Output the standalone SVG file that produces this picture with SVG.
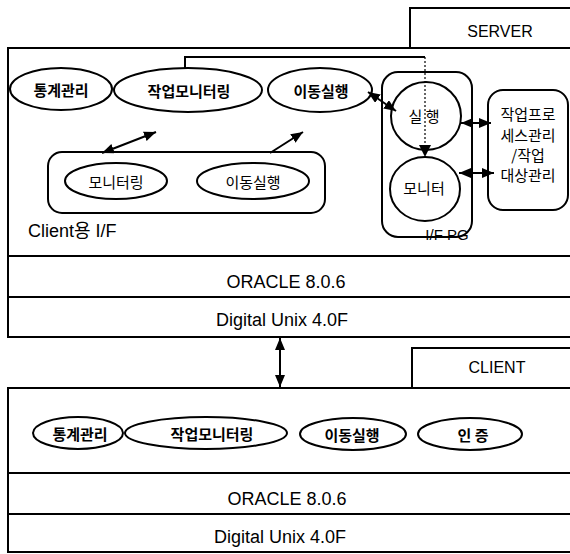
<svg xmlns="http://www.w3.org/2000/svg" width="570" height="554" viewBox="0 0 570 554">
<style>
.bx{fill:none;stroke:#000;stroke-width:2}
.ln{fill:none;stroke:#000;stroke-width:2}
.el{fill:#fff;stroke:#000;stroke-width:2}
.ar{fill:none;stroke:#000;stroke-width:2;marker-end:url(#ah)}
.ar2{fill:none;stroke:#000;stroke-width:2;marker-start:url(#ah);marker-end:url(#ah)}
.dot{fill:none;stroke:#000;stroke-width:1.2;stroke-dasharray:2 2}
.ko{font-family:"Noto Sans CJK KR","Liberation Sans",sans-serif;font-size:15px;font-weight:bold;fill:#000;text-anchor:middle;dominant-baseline:central}
.kn{font-weight:normal}
.la{font-family:"Liberation Sans","Noto Sans CJK KR",sans-serif;fill:#000;text-anchor:middle;dominant-baseline:central}
</style>
<defs>
<marker id="ah" markerUnits="userSpaceOnUse" markerWidth="12" markerHeight="10" viewBox="0 0 12 10" refX="12" refY="5" orient="auto-start-reverse">
<path d="M0,0 L12,5 L0,10 z" fill="#000"/>
</marker>
</defs>
<rect width="570" height="554" fill="#fff"/>

<g id="server">
<path class="bx" d="M410,48 V8 H576"/>
<text class="la" x="500" y="31" font-size="16">SERVER</text>
<rect class="bx" x="8" y="48" width="570" height="289"/>
<line class="ln" x1="8" y1="256" x2="576" y2="256"/>
<line class="ln" x1="8" y1="297" x2="576" y2="297"/>
</g>

<g id="s-oracle"><text class="la" x="286" y="282" font-size="18">ORACLE 8.0.6</text></g>
<g id="s-unix"><text class="la" x="282" y="320" font-size="18">Digital Unix 4.0F</text></g>

<g id="s-stat"><ellipse class="el" cx="61" cy="89" rx="51" ry="21"/><text class="ko" x="61" y="89">통계관리</text></g>
<g id="s-jobmon"><ellipse class="el" cx="188" cy="90" rx="74" ry="22"/><text class="ko" x="189" y="90">작업모니터링</text></g>
<g id="s-move"><ellipse class="el" cx="320" cy="90" rx="52" ry="22"/><text class="ko" x="321" y="90">이동실행</text></g>

<g id="client-if">
<rect class="bx" x="48" y="152" width="277" height="61" rx="14"/>
<text class="la" x="28" y="231" font-size="18" style="text-anchor:start">Client용 I/F</text>
</g>
<g id="ci-mon"><ellipse class="el" cx="116" cy="181" rx="51" ry="18"/><text class="ko kn" x="116" y="181">모니터링</text></g>
<g id="ci-move"><ellipse class="el" cx="253" cy="181" rx="56" ry="18"/><text class="ko kn" x="253" y="181">이동실행</text></g>

<g id="ifpg">
<rect class="bx" x="382" y="72" width="90" height="165" rx="16"/>
<text class="la" x="447" y="234" font-size="15">I/F PG</text>
</g>
<g id="exec"><ellipse class="el" cx="426" cy="116" rx="35" ry="34"/><text class="ko kn" x="424" y="115" font-size="16">실 행</text></g>
<g id="monitor"><ellipse class="el" cx="425" cy="189" rx="35" ry="32"/><text class="ko kn" x="424" y="187" font-size="16">모니터</text></g>

<g id="jobproc">
<rect class="bx" x="488" y="90" width="80" height="120" rx="15"/>
<text class="ko kn" x="528" y="113" font-size="17">작업프로</text>
<text class="ko kn" x="528" y="134" font-size="17">세스관리</text>
<text class="ko kn" x="528" y="154" font-size="17">/작업</text>
<text class="ko kn" x="528" y="174" font-size="17">대상관리</text>
</g>

<g id="client">
<path class="bx" d="M412,388 V348 H576"/>
<text class="la" x="497" y="367" font-size="16">CLIENT</text>
<rect class="bx" x="8" y="388" width="570" height="164"/>
<line class="ln" x1="8" y1="473" x2="576" y2="473"/>
<line class="ln" x1="8" y1="514" x2="576" y2="514"/>
</g>
<g id="c-oracle"><text class="la" x="287" y="499" font-size="18">ORACLE 8.0.6</text></g>
<g id="c-unix"><text class="la" x="280" y="537" font-size="18">Digital Unix 4.0F</text></g>

<g id="c-stat"><ellipse class="el" cx="78" cy="433" rx="45" ry="16"/><text class="ko" x="80" y="433" font-size="14.5">통계관리</text></g>
<g id="c-jobmon"><ellipse class="el" cx="206" cy="433" rx="81" ry="16"/><text class="ko" x="212" y="433" font-size="14.5">작업모니터링</text></g>
<g id="c-move"><ellipse class="el" cx="353" cy="434" rx="53" ry="16"/><text class="ko" x="352" y="434" font-size="15">이동실행</text></g>
<g id="c-auth"><ellipse class="el" cx="470" cy="434" rx="52" ry="16"/><text class="ko" x="473" y="434" font-size="15">인 증</text></g>

<g id="connectors">
<path class="ln" d="M185,68 V57 H425"/>
<path class="dot" d="M425,57 V146"/>
<path d="M419,145 L431,145 L425,157 z" fill="#000"/>
<line class="ar2" x1="102" y1="153" x2="156" y2="132"/>
<line class="ar" x1="270" y1="153" x2="303" y2="132"/>
<line class="ar2" x1="368" y1="92" x2="396" y2="111"/>
<line class="ar2" x1="461" y1="123" x2="491" y2="123"/>
<line class="ar2" x1="459" y1="173" x2="494" y2="173"/>
<line class="ar2" x1="280" y1="338" x2="280" y2="387"/>
</g>
</svg>
